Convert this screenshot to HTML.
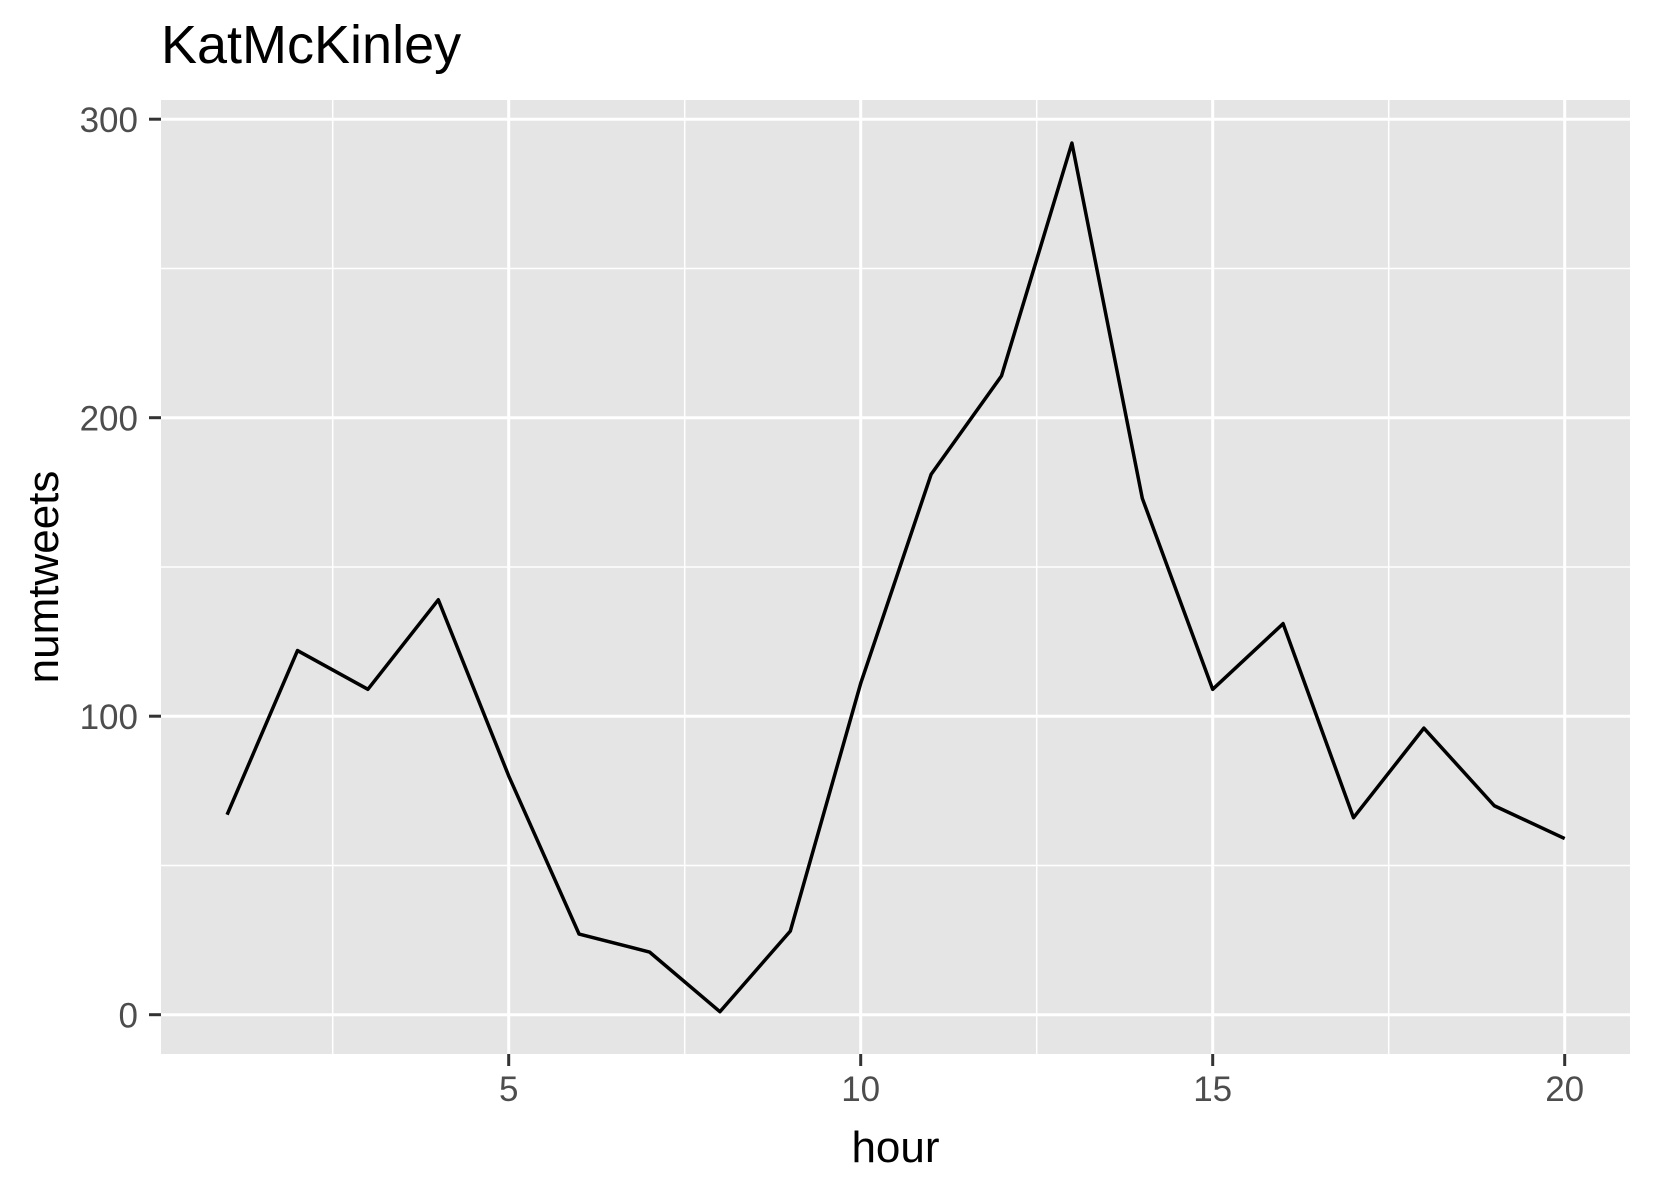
<!DOCTYPE html>
<html><head><meta charset="utf-8"><style>body{margin:0;background:#fff}svg{display:block;font-family:"Liberation Sans",Arial,sans-serif}</style></head>
<body>
<svg id="chart" width="1653" height="1181"></svg>
<script>
const hours=[1,2,3,4,5,6,7,8,9,10,11,12,13,14,15,16,17,18,19,20];
const numtweets=[67,122,109,139,80,27,21,1,28,111,181,214,292,173,109,131,66,96,70,59];
const xTicks=[5,10,15,20];
const yTicks=[0,100,200,300];
const NS="http://www.w3.org/2000/svg";
const svg=document.getElementById('chart');
const L=161,R=1630,T=100,B=1054;
const xs=v=>508.7+(v-5)*70.4;
const ys=v=>1014.7-v*2.985;
function mk(tag,attrs,parent){const e=document.createElementNS(NS,tag);for(const k in attrs)e.setAttribute(k,attrs[k]);(parent||svg).appendChild(e);return e;}
const panel=mk('rect',{x:L,y:T,width:R-L,height:B-T,fill:'#e5e5e5'});


for(let i=0;i<xTicks.length;i++){const m=xTicks[i]-2.5;if(xs(m)>L){const g=mk('line',{x1:xs(m),x2:xs(m),y1:T,y2:B,stroke:'#fff','stroke-width':1.5});}}
for(let i=0;i<yTicks.length;i++){const m=yTicks[i]+50;if(ys(m)>T){const g=mk('line',{x1:L,x2:R,y1:ys(m),y2:ys(m),stroke:'#fff','stroke-width':1.5});}}
xTicks.forEach(v=>{const x=xs(v);
const g=mk('line',{x1:x,x2:x,y1:T,y2:B,stroke:'#fff','stroke-width':3});
const t=mk('line',{x1:x,x2:x,y1:B,y2:B+12,stroke:'#333','stroke-width':3});
const l=mk('text',{x:x,y:B+47,'text-anchor':'middle','font-size':35,fill:'#4d4d4d'});l.textContent=v;});
yTicks.forEach(v=>{const y=ys(v);
const g=mk('line',{x1:L,x2:R,y1:y,y2:y,stroke:'#fff','stroke-width':3});
const t=mk('line',{x1:L-12,x2:L,y1:y,y2:y,stroke:'#333','stroke-width':3});
const l=mk('text',{x:L-23,y:y+13,'text-anchor':'end','font-size':35,fill:'#4d4d4d'});l.textContent=v;});
const line=mk('polyline',{points:hours.map((h,i)=>xs(h)+','+ys(numtweets[i])).join(' '),fill:'none',stroke:'#000','stroke-width':3.5,'stroke-linejoin':'round'});


const ti=mk('text',{x:L,y:63,'font-size':54,fill:'#000'});ti.textContent='KatMcKinley';


const xt=mk('text',{x:(L+R)/2,y:1162,'text-anchor':'middle','font-size':44,fill:'#000'});xt.textContent='hour';


const yt=mk('text',{x:0,y:0,'text-anchor':'middle','font-size':44,fill:'#000',transform:'translate(58,'+((T+B)/2)+') rotate(-90)'});yt.textContent='numtweets';


</script>
</body></html>
